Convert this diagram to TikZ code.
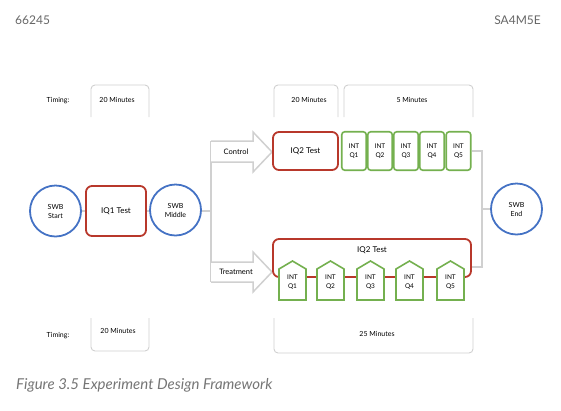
\documentclass[tikz,border=0pt]{standalone}
\usepackage{fontspec}
\setmainfont{Lato}
\usetikzlibrary{calc}
\definecolor{cblue}{HTML}{4472C4}
\definecolor{cred}{HTML}{B8382B}
\definecolor{cgreen}{HTML}{74B04F}
\definecolor{cgray}{HTML}{D0D0D0}
\definecolor{ctext}{HTML}{666666}
\begin{document}
\begin{tikzpicture}[x=1pt,y=-1pt,
 circ/.style={circle,draw=cblue,line width=1.8pt,minimum size=51pt,inner sep=0pt,align=center,font=\fontsize{7}{9}\selectfont},
 redbox/.style={draw=cred,line width=1.8pt,rounded corners=6pt,inner sep=0pt,font=\fontsize{8}{10}\selectfont},
 grbox/.style={draw=cgreen,line width=1.6pt,rounded corners=3pt,minimum width=24.5pt,minimum height=38.5pt,inner sep=0pt,align=center,font=\fontsize{6.5}{9}\selectfont},
 pent/.style={draw=cgreen,line width=1.6pt,fill=white},
 pentxt/.style={align=center,font=\fontsize{6.5}{9}\selectfont,inner sep=0pt},
 conn/.style={draw=cgray,line width=1.5pt},
 barrow/.style={draw=cgray,line width=1.5pt,fill=white,line join=miter},
 bracket/.style={draw=cgray,line width=0.9pt,rounded corners=4pt},
 lbl/.style={font=\fontsize{7}{9}\selectfont,inner sep=0pt},
 albl/.style={font=\fontsize{7.5}{9}\selectfont,inner sep=0pt}
]
\useasboundingbox (0,0) rectangle (561,410);

% header
\node[anchor=west,text=ctext,font=\fontsize{12}{14}\selectfont,inner sep=0pt] (hl) at (15,20) {66245};
\node[anchor=east,text=ctext,font=\fontsize{12}{14}\selectfont,inner sep=0pt] (hr) at (541,20) {SA4M5E};

% top timing
\draw[bracket] (91,117) -- (91,85) -- (149,85) -- (149,117);
\draw[bracket] (274,117) -- (274,85) -- (338,85) -- (338,117);
\draw[bracket] (344,117) -- (344,85) -- (473,85) -- (473,117);
\node[lbl] (t1) at (58,101) {Timing:};
\node[lbl] (t2) at (117,100) {20 Minutes};
\node[lbl] (t3) at (309,100) {20 Minutes};
\node[lbl] (t4) at (412,100) {5 Minutes};

% bottom timing
\draw[bracket] (91,318) -- (91,351) -- (149,351) -- (149,318);
\draw[bracket] (274,318) -- (274,353) -- (473,353) -- (473,318);
\node[lbl] (b1) at (58,336) {Timing:};
\node[lbl] (b2) at (118,331) {20 Minutes};
\node[lbl] (b3) at (377,334) {25 Minutes};

% main flow
\node[circ] (start) at (55.5,211) {SWB\\Start};
\node[redbox,minimum width=60pt,minimum height=50pt] (iq1) at (116,211) {IQ1 Test};
\node[circ] (mid) at (175.5,210) {SWB\\Middle};
\node[circ] (end) at (516.5,209) {SWB\\End};

\draw[conn] (start) -- (iq1);
\draw[conn] (iq1.east) -- (iq1.east -| mid.west);
\coordinate (split) at (211,211);
\draw[conn] (mid.east |- split) -- (split);
\draw[conn] (211,141) -- (211,282);

% block arrows
\draw[barrow] (211,141) -- (253,141) -- (253,132) -- (272,152) -- (253,172) -- (253,162) -- (211,162);
\draw[barrow] (211,262) -- (253,262) -- (253,252) -- (272,272) -- (253,292) -- (253,282) -- (211,282);
\node[albl] (ctl) at (236,151.5) {Control};
\node[albl] (trt) at (236,271.5) {Treatment};

% control branch
\node[redbox,minimum width=65pt,minimum height=38pt] (iq2c) at (305.5,151) {IQ2 Test};
\foreach \i/\x in {1/354,2/380,3/406,4/432,5/458.5}{
  \node[grbox] (qc\i) at (\x,151) {INT\\Q\i};
}

% treatment branch
\node[redbox,minimum width=198pt,minimum height=38pt] (iq2t) at (372,258) {};
\node[font=\fontsize{8}{10}\selectfont,inner sep=0pt] (iq2tl) at (372,250) {IQ2 Test};
\foreach \i/\x in {1/292.5,2/330.5,3/370.5,4/409.5,5/450.5}{
  \draw[pent] (\x-13.5,300) -- (\x-13.5,269) -- (\x,261) -- (\x+13.5,269) -- (\x+13.5,300) -- cycle;
  \node[pentxt] (qt\i) at (\x,282) {INT\\Q\i};
}

% to end
\coordinate (rj) at (482,209);
\draw[conn] (qc5.east) -- (qc5.east -| rj) -- ($(rj |- iq2t.east)+(0,9)$) -- ($(iq2t.east)+(0,9)$);
\draw[conn] (rj) -- (end.west);

% caption
\node[anchor=west,text=ctext!90,font=\itshape\fontsize{15}{17}\selectfont,inner sep=0pt] (cap) at (16,385) {Figure 3.5 Experiment Design Framework};
\end{tikzpicture}
\end{document}
